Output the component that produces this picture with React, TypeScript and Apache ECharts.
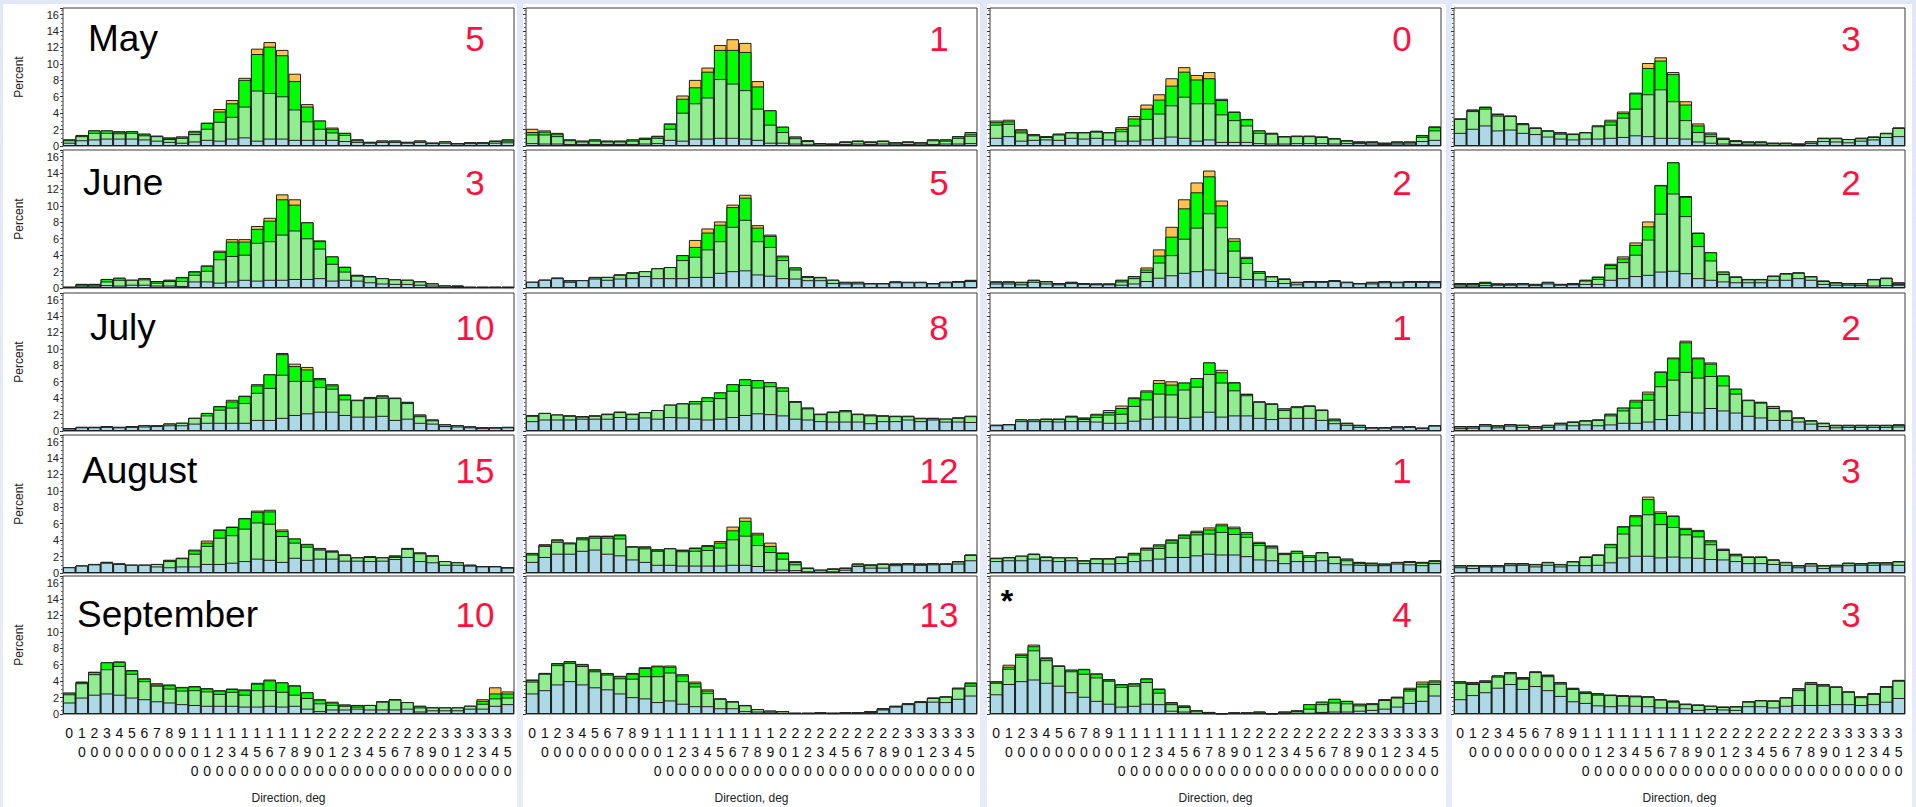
import React, { useEffect, useRef } from 'react';
import * as echarts from 'echarts';

// Direction bins (deg)
const directions = ['0','10','20','30','40','50','60','70','80','90','100','110','120','130','140','150','160','170','180','190','200','210','220','230','240','250','260','270','280','290','300','310','320','330','340','350'];
const months = ['May', 'June', 'July', 'August', 'September'];
// red counts per row (month) and column
const countsMay = ['5', '1', '0', '3'];
const countsJune = ['3', '5', '2', '2'];
const countsJuly = ['10', '8', '1', '2'];
const countsAugust = ['15', '12', '1', '3'];
const countsSeptember = ['10', '13', '4', '3'];
const yTicks = [0, 2, 4, 6, 8, 10, 12, 14, 16];

// Cumulative percent: top of blue, top of light green, top of green, top of bar (orange)
// ---- column 1
const may1Blue = [0.4,0.7,0.8,0.9,0.9,0.9,0.8,0.65,0.5,0.4,0.55,0.75,0.65,0.9,1.05,0.65,0.9,0.9,0.75,0.75,0.75,0.75,0.6,0.5,0.4,0.5,0.5,0.4,0.5,0.35,0.4,0.3,0.35,0.35,0.4,0.45];
const may1LightGreen = [0.7,1.2,1.6,1.6,1.55,1.6,1.3,1.2,0.85,1.0,1.45,2.1,2.95,3.55,4.8,6.75,6.45,6.05,4.45,3.0,2.1,1.65,1.35,0.7,0.5,0.65,0.65,0.5,0.65,0.4,0.55,0.35,0.45,0.45,0.6,0.65];
const may1Green = [0.8,1.3,1.9,1.9,1.75,1.8,1.5,1.25,1.0,1.15,1.75,2.8,4.2,5.2,8.05,11.2,12.1,11.05,7.9,4.8,3.1,2.1,1.6,0.8,0.5,0.65,0.65,0.5,0.65,0.4,0.55,0.35,0.45,0.45,0.65,0.8];
const may1Total = [0.8,1.35,1.9,1.9,1.8,1.8,1.5,1.25,1.05,1.15,1.85,2.85,4.5,5.6,8.3,11.85,12.65,11.7,8.8,5.1,3.1,2.25,1.6,0.8,0.5,0.65,0.65,0.5,0.65,0.4,0.55,0.35,0.45,0.45,0.65,0.8];

const june1Blue = [0.1,0.2,0.2,0.35,0.3,0.4,0.4,0.3,0.3,0.25,0.8,0.8,0.65,0.8,1.0,0.9,1.0,1.0,1.1,1.1,1.2,0.9,1.0,0.9,0.7,0.55,0.5,0.5,0.4,0.3,0.15,0.1,0.1,0.1,0.1,0.1];
const june1LightGreen = [0.15,0.4,0.4,0.8,1.0,1.0,1.05,0.65,0.85,0.85,1.6,2.1,3.5,3.9,4.05,5.5,5.7,6.5,7.0,6.05,4.8,2.95,2.0,1.5,1.4,1.2,1.05,1.0,0.8,0.55,0.3,0.25,0.15,0.15,0.15,0.15];
const june1Green = [0.15,0.5,0.5,1.1,1.25,1.0,1.2,0.85,1.0,1.3,2.0,2.7,4.4,5.65,5.65,7.2,8.2,10.8,10.15,8.0,5.7,3.85,2.55,1.6,1.45,1.2,1.05,1.0,0.8,0.55,0.3,0.3,0.15,0.15,0.15,0.15];
const june1Total = [0.15,0.5,0.5,1.1,1.25,1.0,1.2,0.85,1.0,1.35,2.05,2.75,4.55,5.95,5.95,7.55,8.55,11.4,10.8,8.0,5.8,3.85,2.6,1.6,1.45,1.2,1.05,1.0,0.8,0.55,0.3,0.3,0.15,0.15,0.15,0.15];

const july1Blue = [0.3,0.45,0.45,0.5,0.45,0.5,0.55,0.6,0.7,0.7,0.9,1.0,1.0,1.0,1.0,1.35,1.35,1.6,1.95,2.15,2.35,2.35,1.95,1.75,1.75,1.85,1.35,1.5,1.0,0.9,0.6,0.55,0.45,0.35,0.4,0.45];
const july1LightGreen = [0.35,0.5,0.5,0.6,0.5,0.6,0.7,0.7,0.9,1.0,1.6,1.9,2.6,2.85,3.4,4.65,5.25,6.85,6.1,6.1,5.35,5.15,3.85,3.75,4.0,4.05,4.0,3.4,1.8,1.3,0.8,0.7,0.55,0.45,0.45,0.5];
const july1Green = [0.35,0.5,0.5,0.6,0.5,0.6,0.7,0.7,0.9,1.0,1.6,2.2,3.0,3.6,4.25,5.55,6.9,9.35,7.9,7.5,6.3,5.55,4.4,3.8,4.1,4.3,4.05,3.55,2.0,1.4,0.8,0.7,0.55,0.45,0.45,0.5];
const july1Total = [0.35,0.5,0.5,0.6,0.5,0.6,0.7,0.7,0.9,1.0,1.6,2.2,3.05,3.8,4.3,5.7,6.9,9.5,8.2,7.8,6.45,5.7,4.45,3.8,4.15,4.35,4.05,3.55,2.0,1.4,0.8,0.7,0.55,0.45,0.45,0.5];

const aug1Blue = [0.7,0.9,1.05,1.25,1.1,1.0,1.0,0.8,0.7,0.8,0.8,1.1,1.1,1.25,1.45,1.75,1.6,1.35,1.85,1.6,1.75,1.75,1.5,1.5,1.45,1.5,1.7,1.95,1.45,1.3,1.0,1.0,0.9,0.8,0.8,0.65];
const aug1LightGreen = [0.7,0.9,1.1,1.35,1.15,1.0,1.0,1.1,1.45,1.8,2.35,3.3,4.3,4.6,5.4,6.15,6.0,4.5,3.7,3.2,2.85,2.6,2.2,1.9,1.95,1.9,1.95,2.95,2.4,2.1,1.45,1.3,1.0,0.85,0.85,0.7];
const aug1Green = [0.7,0.9,1.1,1.35,1.15,1.0,1.0,1.1,1.6,1.85,2.75,3.7,5.25,5.6,6.65,7.45,7.5,5.1,4.2,3.5,3.0,2.7,2.25,1.9,2.05,1.9,2.1,3.05,2.5,2.15,1.45,1.3,1.0,0.85,0.85,0.7];
const aug1Total = [0.7,0.9,1.1,1.35,1.15,1.0,1.0,1.1,1.6,1.85,2.85,3.95,5.3,5.65,6.7,7.6,7.7,5.3,4.2,3.55,3.05,2.75,2.25,1.9,2.05,1.9,2.15,3.05,2.5,2.15,1.45,1.3,1.0,0.85,0.85,0.7];

const sep1Blue = [1.4,2.0,2.35,2.5,2.35,2.0,1.8,1.55,1.4,1.2,1.1,1.0,1.0,1.0,0.9,0.9,1.0,0.9,1.0,0.65,0.35,0.55,0.55,0.65,0.55,0.55,0.55,0.65,0.3,0.45,0.45,0.45,0.65,0.65,1.0,1.2];
const sep1LightGreen = [2.4,3.75,4.85,5.45,5.85,4.9,4.0,3.45,3.1,2.85,2.9,2.75,2.45,2.7,2.35,2.9,2.9,2.7,2.35,1.95,1.3,1.1,1.0,0.9,1.1,1.5,1.75,1.45,0.8,0.8,0.8,0.8,1.0,1.25,1.9,2.0];
const sep1Green = [2.6,3.9,5.1,6.3,6.35,5.3,4.3,3.6,3.5,3.25,3.35,3.1,2.85,3.05,2.9,3.7,4.1,3.85,3.45,2.65,1.75,1.4,1.15,1.1,1.1,1.55,1.8,1.45,1.0,0.8,0.8,0.8,1.0,1.6,2.5,2.5];
const sep1Total = [2.6,3.95,5.15,6.3,6.4,5.35,4.35,3.75,3.6,3.3,3.4,3.15,2.9,3.1,3.0,3.8,4.2,3.85,3.5,2.65,1.8,1.5,1.15,1.1,1.1,1.55,1.8,1.45,1.0,0.8,0.8,0.8,1.0,1.8,3.25,2.75];

// ---- column 2
const may2Blue = [0.35,0.3,0.3,0.25,0.25,0.25,0.25,0.25,0.25,0.3,0.35,0.75,0.65,0.9,0.9,1.0,1.0,0.9,0.75,0.4,0.4,0.3,0.2,0.15,0.15,0.25,0.3,0.25,0.3,0.2,0.25,0.2,0.25,0.3,0.3,0.35];
const may2LightGreen = [1.4,1.4,1.2,0.7,0.55,0.65,0.55,0.55,0.65,0.85,1.0,2.1,4.05,5.2,5.9,8.15,7.6,6.8,4.55,2.6,1.7,0.95,0.6,0.3,0.25,0.5,0.6,0.5,0.6,0.4,0.5,0.4,0.7,0.65,1.0,1.25];
const may2Green = [1.7,1.75,1.5,0.8,0.65,0.8,0.65,0.65,0.8,1.0,1.2,2.7,5.75,7.15,9.05,11.7,11.7,11.45,7.25,4.35,2.35,1.15,0.7,0.35,0.3,0.55,0.65,0.55,0.65,0.45,0.55,0.45,0.8,0.8,1.2,1.5];
const may2Total = [2.1,1.9,1.6,0.8,0.65,0.8,0.65,0.65,0.8,1.0,1.25,2.75,6.15,8.05,9.55,12.3,13.0,12.55,7.9,4.35,2.35,1.15,0.7,0.35,0.3,0.55,0.65,0.55,0.65,0.45,0.55,0.45,0.8,0.8,1.2,1.7];

const june2Blue = [0.75,1.0,1.2,0.75,0.95,1.15,1.0,1.15,1.2,1.45,1.2,1.2,1.2,1.35,1.35,1.85,2.05,2.15,1.65,1.5,1.2,1.15,0.95,0.95,0.6,0.55,0.55,0.55,0.55,0.7,0.7,0.7,0.55,0.7,0.75,0.85];
const june2LightGreen = [0.75,1.0,1.25,0.9,0.95,1.3,1.35,1.6,1.85,2.05,2.4,2.55,3.4,3.8,4.7,5.7,7.45,8.3,5.7,5.0,3.4,2.25,1.35,1.3,1.0,0.7,0.7,0.6,0.6,0.75,0.7,0.7,0.6,0.75,0.8,0.9];
const june2Green = [0.75,1.0,1.25,0.95,0.95,1.35,1.35,1.65,1.9,2.05,2.4,2.55,4.0,5.0,6.75,7.7,9.85,11.0,7.35,6.35,3.85,2.5,1.45,1.35,1.0,0.75,0.75,0.6,0.6,0.8,0.75,0.75,0.6,0.75,0.85,0.95];
const june2Total = [0.75,1.0,1.25,0.95,0.95,1.35,1.35,1.65,1.9,2.05,2.4,2.55,4.0,5.85,7.25,8.1,10.15,11.35,7.65,6.5,3.95,2.5,1.45,1.35,1.0,0.75,0.75,0.6,0.6,0.8,0.75,0.75,0.6,0.75,0.85,1.0];

const july2Blue = [1.2,1.4,1.4,1.4,1.5,1.5,1.5,1.7,1.5,1.65,1.5,1.7,1.65,1.5,1.4,1.5,1.7,1.95,2.15,2.05,1.9,1.5,1.4,1.2,1.15,1.15,1.15,0.95,1.2,1.2,1.4,1.2,1.4,1.15,1.15,1.1];
const july2LightGreen = [1.85,2.2,2.0,1.85,1.75,1.85,2.05,2.3,2.05,2.3,2.55,3.2,3.35,3.35,3.65,4.0,4.9,5.6,5.3,5.45,4.9,3.55,2.75,2.05,2.3,2.4,2.05,1.9,1.85,1.8,1.8,1.55,1.55,1.5,1.6,1.8];
const july2Green = [1.9,2.2,2.0,1.9,1.8,1.9,2.1,2.35,2.1,2.3,2.55,3.2,3.35,3.65,4.1,4.7,5.7,6.3,6.2,5.95,5.3,3.65,2.85,2.1,2.35,2.55,2.1,2.0,1.9,1.85,1.85,1.6,1.6,1.5,1.65,1.85];
const july2Total = [1.95,2.2,2.0,1.9,1.8,1.9,2.1,2.35,2.1,2.3,2.55,3.2,3.35,3.65,4.1,4.7,5.7,6.3,6.2,5.95,5.3,3.65,2.85,2.1,2.35,2.55,2.1,2.0,1.9,1.85,1.85,1.6,1.6,1.5,1.65,1.85];

const aug2Blue = [1.35,1.95,2.35,2.35,2.7,2.85,2.35,2.15,1.65,1.35,1.0,1.0,0.9,0.9,0.9,0.9,1.0,1.0,0.85,0.4,0.4,0.35,0.2,0.15,0.2,0.4,0.85,0.65,0.65,0.95,1.05,1.0,1.05,1.1,1.15,1.55];
const aug2LightGreen = [2.25,3.3,3.8,3.6,4.1,4.3,4.3,4.2,3.2,3.0,2.7,3.0,2.65,2.7,2.8,3.1,4.1,4.55,3.4,2.55,1.75,1.05,0.6,0.4,0.5,0.6,1.05,0.95,1.1,1.1,1.15,1.1,1.15,1.15,1.4,2.2];
const aug2Green = [2.4,3.45,4.05,3.7,4.3,4.5,4.5,4.6,3.25,3.2,2.85,3.0,2.8,3.05,3.3,3.7,5.2,6.35,4.7,3.3,2.45,1.35,0.65,0.4,0.55,0.65,1.15,1.05,1.15,1.15,1.2,1.15,1.2,1.15,1.45,2.25];
const aug2Total = [2.45,3.5,4.1,3.7,4.35,4.55,4.55,4.7,3.25,3.25,2.9,3.0,2.85,3.1,3.4,3.9,5.65,6.75,4.9,3.7,2.5,1.45,0.65,0.4,0.55,0.65,1.15,1.05,1.15,1.15,1.2,1.15,1.2,1.15,1.45,2.25];

const sep2Blue = [2.5,2.9,3.6,4.0,3.6,3.25,3.0,2.5,2.05,1.9,1.45,1.65,1.25,0.95,0.95,0.7,0.7,0.35,0.3,0.2,0.15,0.1,0.1,0.15,0.1,0.15,0.15,0.25,0.55,0.9,1.2,1.45,1.5,1.45,1.85,2.25];
const sep2LightGreen = [3.95,4.9,5.95,6.2,5.85,5.2,4.8,4.35,4.3,4.6,4.6,5.05,4.0,3.35,2.55,1.85,1.5,1.05,0.6,0.4,0.35,0.15,0.15,0.2,0.15,0.2,0.2,0.35,0.65,0.95,1.25,1.5,1.95,2.1,3.1,3.45];
const sep2Green = [4.15,5.0,6.15,6.4,6.05,5.4,4.95,4.6,4.9,5.6,5.8,5.75,4.7,3.75,2.85,1.9,1.55,1.1,0.6,0.4,0.35,0.15,0.15,0.2,0.15,0.2,0.2,0.35,0.7,1.0,1.3,1.55,2.0,2.15,3.2,3.75];
const sep2Total = [4.2,5.0,6.2,6.45,6.1,5.45,5.0,4.65,5.0,5.7,5.9,5.9,4.85,3.95,3.0,1.9,1.55,1.1,0.6,0.4,0.35,0.15,0.15,0.2,0.15,0.2,0.2,0.35,0.7,1.0,1.3,1.55,2.0,2.15,3.2,3.85];

// ---- column 3
const may3Blue = [1.0,1.2,0.65,0.75,0.8,0.75,1.0,0.9,1.0,0.8,0.65,0.65,0.8,1.0,1.15,1.0,0.65,0.8,0.5,0.5,0.5,0.35,0.3,0.3,0.35,0.35,0.35,0.3,0.35,0.35,0.3,0.25,0.3,0.3,0.6,0.75];
const may3LightGreen = [2.6,2.7,1.65,1.3,1.1,1.4,1.65,1.65,1.75,1.65,1.8,2.5,3.3,3.95,4.95,6.0,5.2,5.2,3.85,3.15,2.5,1.6,1.5,1.15,1.2,1.2,1.1,0.9,0.65,0.5,0.5,0.35,0.45,0.45,1.1,1.9];
const may3Green = [2.9,3.0,1.9,1.4,1.2,1.5,1.7,1.7,1.85,1.7,2.1,3.35,4.55,5.65,7.35,9.05,8.1,8.25,5.6,4.15,3.25,1.9,1.6,1.2,1.25,1.25,1.15,0.95,0.7,0.55,0.55,0.4,0.55,0.55,1.3,2.3];
const may3Total = [3.1,3.2,2.05,1.45,1.2,1.5,1.7,1.7,1.85,1.7,2.3,3.65,5.05,6.3,8.25,9.6,8.65,9.0,5.75,4.2,3.3,1.9,1.6,1.2,1.25,1.25,1.15,0.95,0.7,0.55,0.55,0.4,0.55,0.55,1.35,2.4];

const june3Blue = [0.55,0.55,0.45,0.75,0.55,0.45,0.6,0.5,0.45,0.45,0.4,0.55,0.85,1.25,1.55,1.85,2.05,2.25,1.85,1.35,1.1,1.05,0.85,0.6,0.45,0.75,0.75,0.85,0.7,0.55,0.55,0.7,0.7,0.75,0.75,0.7];
const june3LightGreen = [0.75,0.75,0.7,0.95,0.8,0.55,0.7,0.55,0.5,0.5,0.8,1.2,1.95,3.1,4.0,6.0,7.35,9.1,7.4,4.55,3.05,1.85,1.4,1.1,0.7,0.8,0.8,0.9,0.75,0.6,0.7,0.8,0.75,0.8,0.8,0.8];
const june3Green = [0.8,0.8,0.75,1.0,0.85,0.6,0.75,0.6,0.55,0.55,1.0,1.45,2.25,3.95,6.25,9.7,11.65,13.6,10.05,5.75,3.65,2.05,1.45,1.15,0.75,0.85,0.85,0.95,0.75,0.6,0.75,0.85,0.75,0.85,0.85,0.85];
const june3Total = [0.8,0.8,0.75,1.0,0.85,0.6,0.75,0.6,0.55,0.55,1.0,1.45,2.5,4.7,7.45,10.8,12.85,14.3,10.65,6.05,3.8,2.05,1.45,1.15,0.75,0.85,0.85,0.95,0.75,0.6,0.75,0.85,0.75,0.85,0.85,0.85];

const july3Blue = [0.7,0.8,1.2,1.2,1.2,1.15,1.2,1.2,1.15,1.0,1.0,1.25,1.5,1.75,1.75,1.6,1.75,2.35,1.75,1.9,1.9,1.6,1.45,1.6,1.6,1.6,1.35,0.95,0.75,0.5,0.4,0.4,0.45,0.5,0.35,0.65];
const july3LightGreen = [0.75,0.85,1.4,1.4,1.45,1.45,1.75,1.45,1.7,2.0,2.1,3.05,3.85,4.55,4.45,5.05,5.4,6.95,5.9,4.95,4.35,3.55,3.3,2.55,2.9,3.05,2.55,1.3,0.95,0.7,0.45,0.45,0.55,0.55,0.4,0.7];
const july3Green = [0.75,0.85,1.4,1.4,1.5,1.5,1.85,1.6,2.0,2.3,2.8,4.0,4.8,5.85,5.65,5.9,6.45,8.35,7.15,5.9,4.5,3.6,3.35,2.75,3.0,3.1,2.6,1.5,1.0,0.75,0.45,0.45,0.55,0.55,0.4,0.7];
const july3Total = [0.75,0.85,1.4,1.4,1.5,1.5,1.85,1.65,2.1,2.55,3.1,4.1,4.95,6.2,6.05,5.9,6.45,8.35,7.45,5.95,4.55,3.6,3.35,2.75,3.0,3.1,2.6,1.5,1.0,0.75,0.45,0.45,0.55,0.55,0.4,0.7];

const aug3Blue = [1.45,1.55,1.55,1.75,1.55,1.45,1.55,1.2,1.2,1.15,1.2,1.45,1.55,1.75,1.95,1.95,2.15,2.35,2.25,2.25,2.05,1.65,1.55,1.2,1.45,1.45,1.55,1.2,1.05,1.0,0.95,0.95,1.15,1.05,0.95,1.2];
const aug3LightGreen = [1.8,1.9,2.1,2.3,1.95,1.9,1.9,1.5,1.75,1.75,1.95,2.25,2.85,3.05,3.7,4.3,4.7,4.8,5.0,4.75,4.4,3.4,3.1,2.3,2.45,1.95,2.5,1.95,1.55,1.2,1.15,1.05,1.3,1.35,1.25,1.45];
const aug3Green = [1.85,1.95,2.1,2.35,2.0,1.9,1.9,1.55,1.8,1.8,2.0,2.45,3.05,3.35,4.0,4.6,5.0,5.3,5.8,5.45,4.8,3.65,3.3,2.45,2.7,2.15,2.55,2.0,1.75,1.35,1.25,1.15,1.35,1.45,1.35,1.55];
const aug3Total = [1.85,1.95,2.1,2.35,2.0,1.9,1.9,1.55,1.8,1.8,2.0,2.45,3.1,3.5,4.1,4.7,5.15,5.55,6.0,5.65,5.0,3.8,3.35,2.45,2.7,2.15,2.55,2.0,1.75,1.35,1.25,1.15,1.35,1.45,1.35,1.55];

const sep3Blue = [2.4,3.65,4.0,4.2,3.8,3.45,2.65,2.1,1.6,1.25,0.9,1.0,1.25,1.2,0.4,0.3,0.15,0.1,0.05,0.1,0.1,0.1,0.05,0.1,0.15,0.15,0.25,0.3,0.3,0.4,0.5,0.65,0.9,1.35,1.6,2.25];
const sep3LightGreen = [3.8,5.5,6.95,7.75,6.55,5.85,5.2,4.9,4.45,4.05,3.3,3.45,3.9,2.6,1.2,0.85,0.4,0.2,0.1,0.15,0.15,0.2,0.1,0.2,0.35,0.65,1.2,1.4,1.3,1.05,1.2,1.7,2.0,2.85,3.35,3.65];
const sep3Green = [3.95,5.75,7.2,8.25,6.8,5.9,5.4,5.45,4.9,4.2,3.6,3.7,4.3,3.05,1.4,1.0,0.45,0.25,0.1,0.2,0.2,0.3,0.1,0.3,0.45,1.2,1.5,1.85,1.6,1.25,1.3,1.8,2.1,3.05,3.7,3.95];
const sep3Total = [4.0,6.0,7.35,8.45,6.9,5.9,5.4,5.5,4.95,4.25,3.65,3.75,4.35,3.1,1.45,1.05,0.45,0.25,0.1,0.2,0.2,0.3,0.1,0.3,0.45,1.2,1.5,1.85,1.6,1.25,1.3,1.8,2.1,3.2,3.95,4.1];

// ---- column 4
const may4Blue = [1.6,2.1,2.5,1.9,2.0,1.6,1.45,1.15,0.9,0.8,0.9,0.9,1.0,1.1,1.3,1.2,1.0,1.0,0.9,0.55,0.4,0.3,0.25,0.2,0.2,0.15,0.15,0.1,0.35,0.6,0.55,0.45,0.65,0.8,1.1,1.2];
const may4LightGreen = [3.3,4.25,4.55,3.7,3.65,2.65,2.2,1.85,1.5,1.45,1.65,2.4,2.6,3.45,4.55,6.3,6.9,5.45,3.15,1.7,1.2,0.85,0.6,0.45,0.45,0.35,0.35,0.25,0.55,0.95,0.95,0.85,0.95,1.1,1.55,2.2];
const may4Green = [3.35,4.4,4.75,3.9,3.7,2.75,2.25,1.9,1.65,1.5,1.7,2.5,3.0,4.0,6.4,9.5,10.4,8.75,5.05,2.5,1.5,1.0,0.7,0.55,0.55,0.4,0.4,0.3,0.55,1.0,1.0,0.85,1.0,1.15,1.6,2.25];
const may4Total = [3.35,4.45,4.8,3.95,3.7,2.8,2.25,1.9,1.7,1.5,1.7,2.5,3.2,4.2,6.5,10.1,10.8,9.0,5.45,2.75,1.65,1.0,0.7,0.55,0.55,0.4,0.4,0.3,0.55,1.0,1.0,0.85,1.0,1.15,1.6,2.25];

const june4Blue = [0.3,0.3,0.35,0.4,0.4,0.45,0.35,0.55,0.4,0.45,0.5,0.5,1.0,1.2,1.45,1.6,2.0,2.1,1.8,1.2,1.0,0.8,0.7,0.7,0.7,1.0,1.0,1.2,1.0,0.5,0.4,0.4,0.35,0.3,0.35,0.4];
const june4LightGreen = [0.5,0.5,0.6,0.5,0.5,0.55,0.45,0.7,0.45,0.5,0.9,1.1,2.4,3.15,4.05,5.9,9.05,11.5,8.75,5.1,3.35,1.7,1.35,1.05,1.05,1.45,1.75,1.85,1.4,0.85,0.65,0.55,0.55,1.05,1.2,0.5];
const june4Green = [0.6,0.6,0.75,0.55,0.55,0.6,0.5,0.75,0.5,0.6,1.0,1.35,2.8,3.6,5.25,7.5,12.5,15.3,11.1,6.7,4.35,2.0,1.4,1.1,1.1,1.5,1.8,1.9,1.45,0.9,0.7,0.6,0.6,1.1,1.25,0.65];
const june4Total = [0.6,0.6,0.75,0.55,0.55,0.6,0.5,0.75,0.5,0.6,1.0,1.4,2.95,3.85,5.55,8.1,12.55,15.3,11.2,6.75,4.35,2.0,1.4,1.1,1.1,1.5,1.8,1.9,1.45,0.9,0.7,0.6,0.6,1.1,1.25,0.7];

const july4Blue = [0.35,0.4,0.65,0.45,0.65,0.5,0.4,0.5,0.8,0.7,0.8,0.7,0.8,1.0,1.0,1.15,1.45,1.95,2.35,2.25,2.8,2.5,2.25,1.85,1.65,1.35,1.35,1.15,0.9,0.6,0.45,0.5,0.5,0.5,0.5,0.55];
const july4LightGreen = [0.55,0.55,0.8,0.65,0.8,0.75,0.55,0.7,0.95,1.1,1.25,1.35,1.9,2.5,2.85,3.8,5.45,6.25,7.2,6.5,6.7,5.55,4.55,3.75,3.45,2.8,2.4,1.6,1.25,0.95,0.7,0.7,0.7,0.7,0.7,0.75];
const july4Green = [0.6,0.6,0.85,0.7,0.85,0.75,0.6,0.75,1.0,1.15,1.3,1.4,2.1,2.85,3.6,4.55,7.2,8.85,10.8,8.85,8.2,6.75,5.15,3.8,3.55,3.05,2.5,1.65,1.3,1.0,0.75,0.75,0.75,0.75,0.75,0.8];
const july4Total = [0.6,0.6,0.85,0.7,0.85,0.75,0.6,0.75,1.0,1.15,1.3,1.4,2.1,2.85,3.8,4.8,7.25,8.95,11.0,8.95,8.35,6.75,5.15,3.8,3.55,3.05,2.5,1.65,1.3,1.0,0.75,0.75,0.75,0.75,0.75,0.8];

const aug4Blue = [0.7,0.6,0.8,0.8,0.95,1.0,0.8,1.0,0.8,0.95,0.95,1.0,1.3,1.9,2.1,2.1,1.9,2.0,1.9,1.85,1.7,1.65,1.45,1.2,1.2,1.1,1.0,0.7,0.9,0.6,0.8,0.95,1.0,1.0,1.05,1.0];
const aug4LightGreen = [0.9,0.9,0.9,0.9,1.15,1.15,1.05,1.3,1.05,1.4,1.95,2.2,3.15,4.8,5.8,7.15,5.95,5.6,4.7,4.45,3.5,2.8,2.15,1.95,1.95,1.6,1.3,0.9,1.15,0.9,0.95,1.2,1.15,1.25,1.25,1.4];
const aug4Green = [0.95,0.95,0.95,0.95,1.2,1.2,1.1,1.35,1.1,1.45,2.0,2.25,3.5,5.65,6.9,9.0,7.3,6.95,5.35,5.1,3.85,2.95,2.3,2.0,2.0,1.65,1.35,0.95,1.2,0.95,1.0,1.25,1.2,1.3,1.3,1.45];
const aug4Total = [0.95,0.95,0.95,0.95,1.2,1.2,1.1,1.35,1.1,1.45,2.0,2.25,3.55,5.7,7.05,9.3,7.5,7.0,5.5,5.25,4.0,2.95,2.35,2.0,2.0,1.65,1.35,0.95,1.2,0.95,1.0,1.25,1.2,1.3,1.3,1.45];

const sep4Blue = [1.8,2.3,2.65,3.2,3.65,3.05,3.4,2.9,2.2,1.55,1.35,1.05,0.95,1.05,1.0,0.95,0.8,0.8,0.7,0.5,0.6,0.55,0.5,0.95,0.95,0.8,1.0,1.1,1.1,1.1,1.2,1.2,1.1,1.2,1.5,1.95];
const sep4LightGreen = [3.8,3.65,3.9,4.55,4.95,4.3,5.1,4.6,3.7,3.05,2.55,2.35,2.3,2.2,2.15,2.1,1.75,1.5,1.2,1.1,1.0,0.85,0.9,1.5,1.65,1.6,2.0,2.9,3.65,3.45,3.3,2.7,2.05,2.45,3.3,4.05];
const sep4Green = [3.95,3.75,4.05,4.7,5.1,4.4,5.15,4.75,3.85,3.15,2.7,2.5,2.35,2.25,2.2,2.15,1.8,1.6,1.25,1.15,1.0,0.9,0.95,1.55,1.7,1.65,2.05,3.1,3.85,3.6,3.35,2.75,2.15,2.55,3.4,4.15];
const sep4Total = [4.0,3.9,4.1,4.7,5.1,4.5,5.2,4.8,3.9,3.2,2.75,2.55,2.35,2.3,2.25,2.15,1.8,1.65,1.25,1.15,1.0,0.9,0.95,1.55,1.7,1.65,2.05,3.15,3.9,3.65,3.35,2.75,2.15,2.55,3.4,4.15];

const panelRows = [
  [[may1Blue, may1LightGreen, may1Green, may1Total], [may2Blue, may2LightGreen, may2Green, may2Total], [may3Blue, may3LightGreen, may3Green, may3Total], [may4Blue, may4LightGreen, may4Green, may4Total]],
  [[june1Blue, june1LightGreen, june1Green, june1Total], [june2Blue, june2LightGreen, june2Green, june2Total], [june3Blue, june3LightGreen, june3Green, june3Total], [june4Blue, june4LightGreen, june4Green, june4Total]],
  [[july1Blue, july1LightGreen, july1Green, july1Total], [july2Blue, july2LightGreen, july2Green, july2Total], [july3Blue, july3LightGreen, july3Green, july3Total], [july4Blue, july4LightGreen, july4Green, july4Total]],
  [[aug1Blue, aug1LightGreen, aug1Green, aug1Total], [aug2Blue, aug2LightGreen, aug2Green, aug2Total], [aug3Blue, aug3LightGreen, aug3Green, aug3Total], [aug4Blue, aug4LightGreen, aug4Green, aug4Total]],
  [[sep1Blue, sep1LightGreen, sep1Green, sep1Total], [sep2Blue, sep2LightGreen, sep2Green, sep2Total], [sep3Blue, sep3LightGreen, sep3Green, sep3Total], [sep4Blue, sep4LightGreen, sep4Green, sep4Total]],
];
const countRows = [countsMay, countsJune, countsJuly, countsAugust, countsSeptember];

// layout
const FONT = '"Liberation Sans", Arial, Helvetica, sans-serif';
const colLeft = [63, 526, 990, 1454];
const plotW = 451;
const rowTop = [8, 150, 293, 435, 576];
const plotH = 138;
const textCenterY = [38, 182, 327, 470, 614];
const monthX = [88, 83, 90, 82, 77];
const countCenterX = [475, 939, 1402, 1851];
const layerColors = ['#ffc34d', '#00ff00', '#90ee90', '#add8e6'];

function buildOption() {
  const grid: any[] = [];
  const xAxis: any[] = [];
  const yAxis: any[] = [];
  const series: any[] = [];
  const graphic: any[] = [];
  let idx = 0;
  for (let r = 0; r < 5; r++) {
    for (let c = 0; c < 4; c++) {
      const last = r === 4;
      grid.push({
        left: colLeft[c], top: rowTop[r], width: plotW, height: plotH,
        show: true, backgroundColor: '#ffffff', borderColor: '#3a3a3a', borderWidth: 1,
      });
      xAxis.push({
        type: 'category', gridIndex: idx, data: directions, boundaryGap: true,
        axisLine: { show: false }, axisTick: { show: false }, splitLine: { show: false },
        axisLabel: {
          show: last, interval: 0, fontSize: 14, lineHeight: 19, margin: 9, color: '#111', fontFamily: FONT,
          formatter: (v: string) => v.split('').join('\n'),
        },
        name: last ? 'Direction, deg' : '', nameLocation: 'middle', nameGap: 78,
        nameTextStyle: { fontSize: 12, color: '#222', fontFamily: FONT },
      });
      yAxis.push({
        type: 'value', gridIndex: idx, min: 0, max: 16.8, interval: 2,
        splitLine: { show: false }, axisLine: { show: false },
        axisTick: { show: true, length: 3, lineStyle: { color: '#333' } },
        minorTick: { show: true, splitNumber: 4, length: 2, lineStyle: { color: '#666' } },
        axisLabel: {
          show: c === 0, fontSize: 11, margin: 4, color: '#222', fontFamily: FONT,
          formatter: (v: number) => (yTicks.indexOf(v) >= 0 ? String(v) : ''),
        },
        name: c === 0 ? 'Percent' : '', nameLocation: 'middle', nameGap: 38, nameRotate: 90,
        nameTextStyle: { fontSize: 12, color: '#222', fontFamily: FONT },
      });
      const [blue, lightGreen, green, total] = panelRows[r][c];
      const layers = [total, green, lightGreen, blue];
      layers.forEach((data, k) => {
        series.push({
          type: 'bar', xAxisIndex: idx, yAxisIndex: idx, data,
          barWidth: '100%', barGap: '-100%', silent: true,
          itemStyle: { color: layerColors[k], borderColor: '#1f1f1f', borderWidth: 1 },
        });
      });
      graphic.push({
        type: 'text', z: 100, silent: true,
        style: {
          text: countRows[r][c], x: countCenterX[c], y: textCenterY[r], fill: '#ff1040',
          fontSize: 35, fontFamily: FONT, align: 'center', verticalAlign: 'middle',
        },
      });
      idx++;
    }
    graphic.push({
      type: 'text', z: 100, silent: true,
      style: {
        text: months[r], x: monthX[r], y: textCenterY[r], fill: '#000',
        fontSize: 37, fontFamily: FONT, align: 'left', verticalAlign: 'middle',
      },
    });
  }
  graphic.push({
    type: 'text', z: 100, silent: true,
    style: {
      text: '*', x: 1007, y: 601, fill: '#000', fontSize: 32, fontWeight: 'bold',
      fontFamily: FONT, align: 'center', verticalAlign: 'middle',
    },
  });
  return { animation: false, grid, xAxis, yAxis, series, graphic };
}

export default function App() {
  const ref = useRef<HTMLDivElement>(null);
  useEffect(() => {
    if (!ref.current) return;
    const chart = echarts.init(ref.current, undefined, { renderer: 'svg' });
    chart.setOption(buildOption() as any);
    return () => chart.dispose();
  }, []);
  const panelBoxes = [
    { left: 3, width: 514 },
    { left: 523, width: 457 },
    { left: 987, width: 459 },
    { left: 1452, width: 460 },
  ];
  return (
    <div style={{ position: 'fixed', left: 0, top: 0, width: 1916, height: 807, background: 'linear-gradient(180deg, #e2e7f8 0%, #e8ecf9 100%)', overflow: 'hidden' }}>
      {panelBoxes.map((b, i) => (
        <div key={i} style={{ position: 'absolute', left: b.left, top: 4, width: b.width, height: 803, background: '#ffffff' }} />
      ))}
      <div ref={ref} style={{ position: 'absolute', left: 0, top: 0, width: 1916, height: 807 }} />
    </div>
  );
}
